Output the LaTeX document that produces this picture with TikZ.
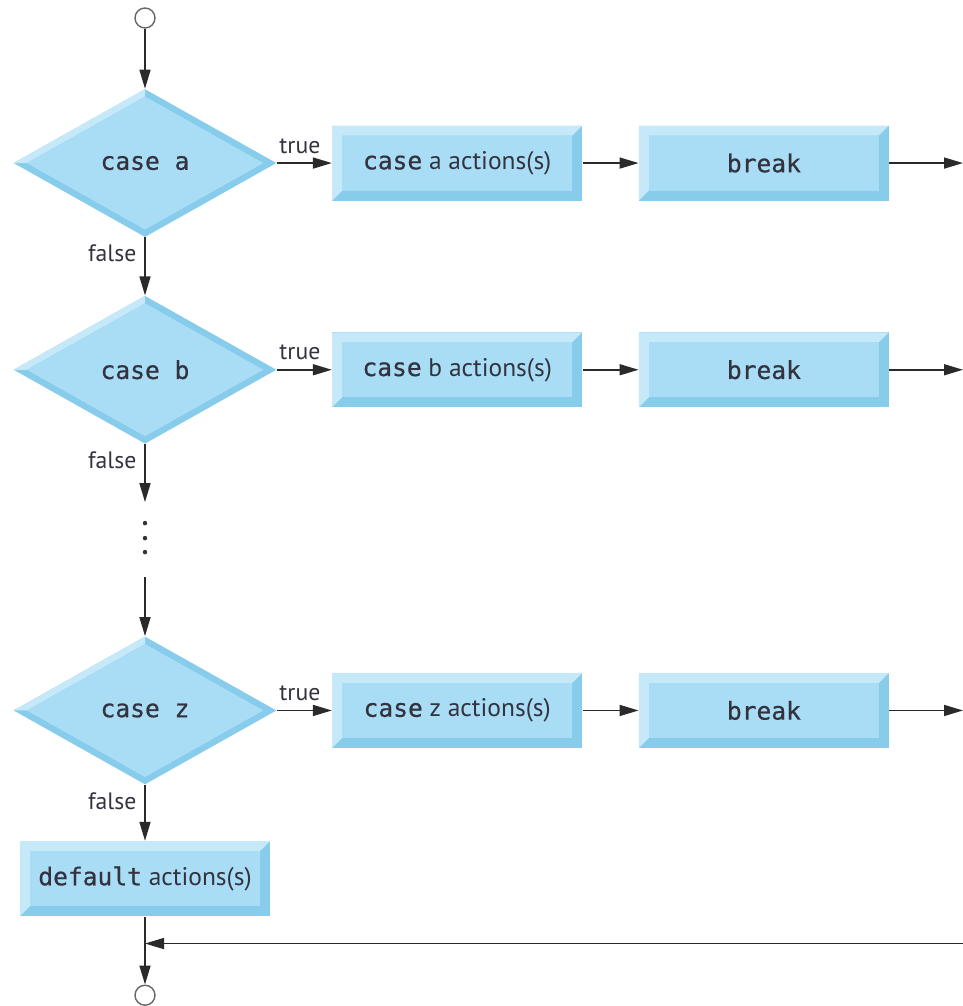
\documentclass[tikz,border=0pt]{standalone}
\usepackage{fontspec}
\setmainfont{PT Sans}
\setmonofont[Scale=0.965, FakeBold=0.6]{DejaVu Sans Mono}
\usetikzlibrary{shapes.geometric, arrows.meta, positioning, calc}

\definecolor{boxmid}{HTML}{A9DDF6}
\definecolor{boxlight}{HTML}{C6E9F9}
\definecolor{boxdark}{HTML}{88CCEB}
\definecolor{textgray}{HTML}{33333F}
\definecolor{linegray}{HTML}{2A2A2A}

\newcommand{\pbb}{path picture bounding box}

\tikzstyle{block} = [rectangle, minimum width=5cm, minimum height=1.5cm, inner sep=0pt, text centered, fill=boxdark, path picture={
  \fill[boxlight] (\pbb.south west) -- (\pbb.north west) -- (\pbb.north east) -- ([shift={(-0.2,-0.2)}]\pbb.north east) -- ([shift={(0.2,-0.2)}]\pbb.north west) -- ([shift={(0.2,0.2)}]\pbb.south west) -- cycle;
  \fill[boxmid] ([shift={(0.2,-0.2)}]\pbb.north west) rectangle ([shift={(-0.2,0.2)}]\pbb.south east);
}]
\tikzstyle{decision} = [diamond, minimum width=5.26cm, minimum height=2.96cm, inner sep=0pt, fill=boxdark, path picture={
  \fill[boxlight] (\pbb.west) -- (\pbb.north) -- ($(\pbb.center)!0.9!(\pbb.north)$) -- ($(\pbb.center)!0.9!(\pbb.west)$) -- cycle;
  \fill[boxmid] ($(\pbb.center)!0.9!(\pbb.north)$) -- ($(\pbb.center)!0.9!(\pbb.east)$) -- ($(\pbb.center)!0.9!(\pbb.south)$) -- ($(\pbb.center)!0.9!(\pbb.west)$) -- cycle;
}]
\tikzstyle{terminal} = [circle, draw=gray!80!black, fill=white, line width=0.8pt, minimum size=0.4cm, inner sep=0pt]
\tikzstyle{cond} = [inner sep=1pt, font=\fontsize{13.5}{15}\selectfont]
\tikzstyle{arrow} = [line width=0.9pt, draw=linegray, -{Triangle[length=0.38cm, width=0.22cm]}]

\begin{document}
\begin{tikzpicture}[node distance=1.1cm, font=\fontsize{14.5}{17}\selectfont, text=textgray]
\useasboundingbox (0,0) rectangle (19.26,-20.12);

% Start
\node (start) [terminal] at (2.9,-0.36) {};

% case a
\node (casea) [decision, below=1.2cm of start] {\texttt{case a}};
\node (acta) [block, right=1.1cm of casea] {\texttt{case} a actions(s)};
\node (brka) [block, right=1.12cm of acta] {\texttt{break}};

% case b
\node (caseb) [decision, below=1.16cm of casea] {\texttt{case b}};
\node (actb) [block, right=1.1cm of caseb] {\texttt{case} b actions(s)};
\node (brkb) [block, right=1.12cm of actb] {\texttt{break}};

% gap with dots
\coordinate (gapa) at ([yshift=-1.16cm]caseb.south);
\foreach \d in {0.42,0.72,1.0}
  \fill[textgray] ([yshift=-\d cm]gapa) circle (0.045);

% case z
\node (casez) [decision, below=3.84cm of caseb] {\texttt{case z}};
\node (actz) [block, right=1.1cm of casez] {\texttt{case} z actions(s)};
\node (brkz) [block, right=1.12cm of actz] {\texttt{break}};
\coordinate (gapb) at ([yshift=1.18cm]casez.north);

% default and end
\node (dflt) [block, below=1.12cm of casez] {\texttt{default} actions(s)};
\node (end) [terminal, below=1.36cm of dflt] {};

% free ends at the right edge
\coordinate (edge) at (19.26,0);
\coordinate (outa) at (brka.east -| edge);
\coordinate (outb) at (brkb.east -| edge);
\coordinate (outz) at (brkz.east -| edge);
\coordinate (join) at ([yshift=-0.54cm]dflt.south);
\coordinate (back) at (join -| edge);

% Arrows down the left
\draw [arrow] (start) -- (casea);
\draw [arrow] (casea) -- node[cond, pos=0, anchor=north east, xshift=-0.12cm, yshift=-0.1cm] {false} (caseb);
\draw [arrow] (caseb) -- node[cond, pos=0, anchor=north east, xshift=-0.12cm, yshift=-0.1cm] {false} (gapa);
\draw [arrow] (gapb) -- (casez);
\draw [arrow] (casez) -- node[cond, pos=0, anchor=north east, xshift=-0.12cm, yshift=-0.1cm] {false} (dflt);
\draw [arrow] (dflt) -- (end);

% Arrows to the right
\draw [arrow] (casea) -- node[cond, pos=0, anchor=south west, yshift=0.14cm] {true} (acta);
\draw [arrow] (acta) -- (brka);
\draw [arrow] (brka) -- (outa);
\draw [arrow] (caseb) -- node[cond, pos=0, anchor=south west, yshift=0.14cm] {true} (actb);
\draw [arrow] (actb) -- (brkb);
\draw [arrow] (brkb) -- (outb);
\draw [arrow] (casez) -- node[cond, pos=0, anchor=south west, yshift=0.14cm] {true} (actz);
\draw [arrow] (actz) -- (brkz);
\draw [arrow] (brkz) -- (outz);

% Back to the end
\draw [arrow] (back) -- (join);

\end{tikzpicture}
\end{document}
